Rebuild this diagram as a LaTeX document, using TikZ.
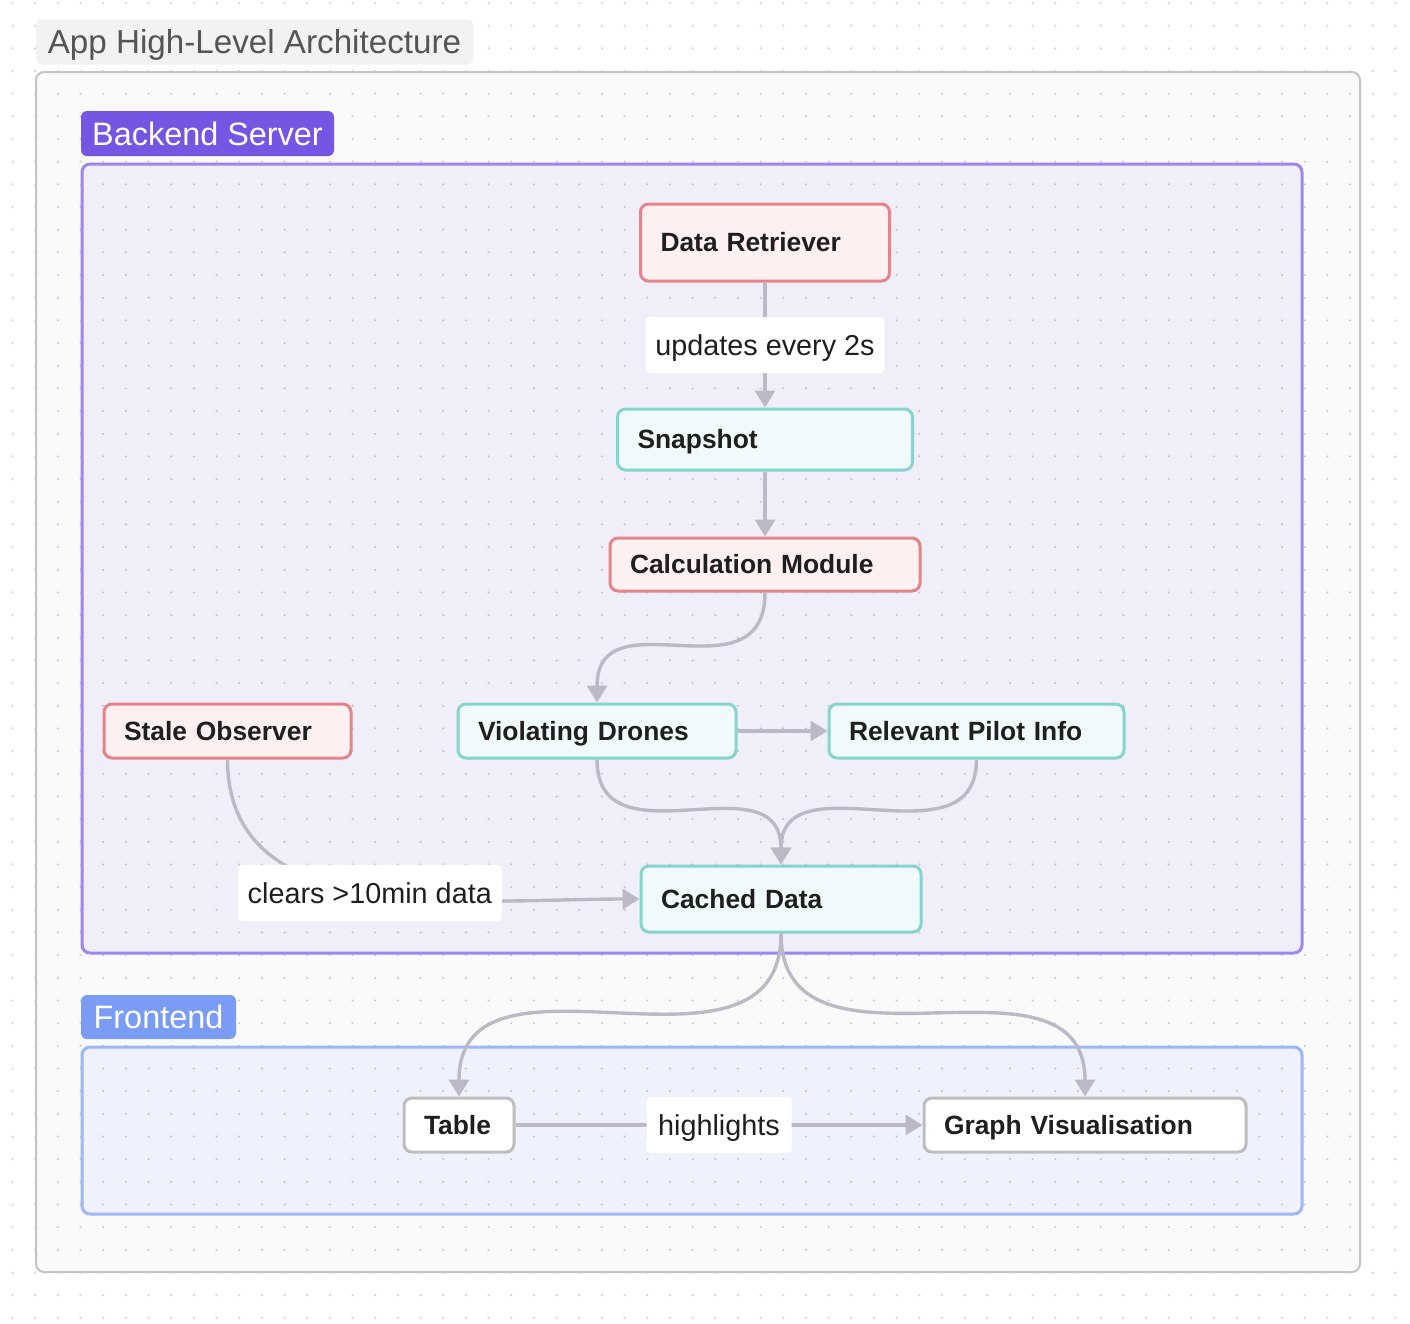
\documentclass[tikz,border=0pt]{standalone}
\usepackage{fontspec}
\setmainfont{Liberation Sans}
\usetikzlibrary{arrows.meta}
\definecolor{txt}{HTML}{1F1F1F}
\definecolor{titletxt}{HTML}{555555}
\definecolor{titlebg}{HTML}{F2F2F2}
\definecolor{outerbd}{HTML}{C4C4C4}
\definecolor{outerbg}{HTML}{FAFAFA}
\definecolor{bepurple}{HTML}{7456E3}
\definecolor{bebd}{HTML}{9D87EE}
\definecolor{bebg}{HTML}{F0EEF9}
\definecolor{feblue}{HTML}{7B9CF4}
\definecolor{febd}{HTML}{9DB6F8}
\definecolor{febg}{HTML}{EFF2FC}
\definecolor{redbd}{HTML}{E5838A}
\definecolor{redbg}{HTML}{FCF0F0}
\definecolor{tealbd}{HTML}{86D3CF}
\definecolor{tealbg}{HTML}{F0FAFA}
\definecolor{graybd}{HTML}{BDBDBD}
\definecolor{edgec}{HTML}{BCB9C6}
\tikzset{
  nd/.style={draw, rounded corners=4pt, line width=1.5pt, inner xsep=10pt, inner ysep=0pt,
    align=left, text=txt, text height=9.45pt, text depth=0pt,
    font=\bfseries\fontsize{13.2}{15}\selectfont},
  rednode/.style={nd, draw=redbd, fill=redbg},
  tealnode/.style={nd, draw=tealbd, fill=tealbg},
  graynode/.style={nd, draw=graybd, fill=white},
  lbl/.style={fill=white, rounded corners=2pt, inner sep=0pt, minimum height=28pt, text=txt,
    text height=10.3pt, text depth=0pt, font=\fontsize{14.4}{16}\selectfont},
  edge/.style={draw=edgec, line width=1.7pt, -{Triangle[length=8.5pt,width=10pt]}},
  tag/.style={rounded corners=3pt, inner sep=0pt, text=white, minimum height=22.5pt,
    text height=11.6pt, text depth=0pt, font=\fontsize{16.2}{18}\selectfont}
}
\begin{document}
\begin{tikzpicture}[x=0.5pt,y=-0.5pt]
\useasboundingbox (0,0) rectangle (1410,1324);
\fill[white] (0,0) rectangle (1410,1324);
% containers fills
\fill[outerbg, rounded corners=4pt] (36,72) rectangle (1360,1272);
\fill[bebg, rounded corners=4pt] (82,164) rectangle (1302,953);
\fill[febg, rounded corners=4pt] (82,1047) rectangle (1302,1214);
% dot grid
\foreach \j in {0,...,58}{
  \foreach \i in {0,...,61}{
    \fill[black, opacity=0.17] (12.5+22.67*\i, 3+22.67*\j) circle (0.62pt);
  }
}
% container borders
\draw[outerbd, line width=1pt, rounded corners=4pt] (36,72) rectangle (1360,1272);
\draw[bebd, line width=1.5pt, rounded corners=4pt] (82,164) rectangle (1302,953);
\draw[febd, line width=1.5pt, rounded corners=4pt] (82,1047) rectangle (1302,1214);
% title and tags
\node[fill=titlebg, rounded corners=3pt, inner sep=0pt, minimum width=218.5pt, minimum height=22.5pt,
  text height=11.9pt, text depth=0pt, text=titletxt, font=\fontsize{16.6}{18}\selectfont]
  (title) at (254.5,42) {App High-Level Architecture};
\node[tag, fill=bepurple, minimum width=126.5pt] (betag) at (207.5,133.5) {Backend Server};
\node[tag, fill=feblue, minimum width=77.5pt, minimum height=22pt] (fetag) at (158.5,1017) {Frontend};
% nodes
\node[rednode, minimum height=38.5pt, text width=104.5pt] (dr) at (765,242.5) {Data Retriever};
\node[tealnode, minimum height=30.5pt, text width=127.5pt] (snap) at (765,439.5) {Snapshot};
\node[rednode, minimum height=26.5pt, text width=135pt] (calc) at (765,564.5) {Calculation Module};
\node[rednode, minimum height=27pt, text width=103.5pt] (stale) at (227.5,731) {Stale Observer};
\node[tealnode, minimum height=27pt, text width=119pt] (vd) at (597,731) {Violating Drones};
\node[tealnode, minimum height=27pt, text width=127.5pt] (rpi) at (976.5,731) {Relevant Pilot Info};
\node[tealnode, minimum height=33pt, text width=120pt] (cached) at (781,899) {Cached Data};
\node[graynode, minimum height=27pt, text width=35pt] (table) at (459,1125) {Table};
\node[graynode, minimum height=27pt, text width=141pt] (graph) at (1085,1125) {Graph Visualisation};
% edges
\draw[edge] (dr.south) -- node[lbl, minimum width=119.5pt] (l1) {updates every 2s} (snap.north);
\draw[edge] (snap.south) -- (calc.north);
\draw[edge] (calc.south) to[out=-90, in=90, looseness=1.4] (vd.north);
\draw[edge] (vd.east) -- (rpi.west);
\draw[edge] (vd.south) to[out=-90, in=90, looseness=1.3] (cached.north);
\draw[edge] (rpi.south) to[out=-90, in=90, looseness=1.25] (cached.north);
\draw[edge] (stale.south) to[out=-90, in=180] node[lbl, minimum width=132pt] (l2) {clears >10min data} (cached.west);
\draw[edge] (cached.south) to[out=-90, in=90, looseness=1.2] (table.north);
\draw[edge] (cached.south) to[out=-90, in=90, looseness=1.2] (graph.north);
\draw[edge] (table.east) -- node[lbl, minimum width=72.5pt] (l3) {highlights} (graph.west);
\end{tikzpicture}
\end{document}
